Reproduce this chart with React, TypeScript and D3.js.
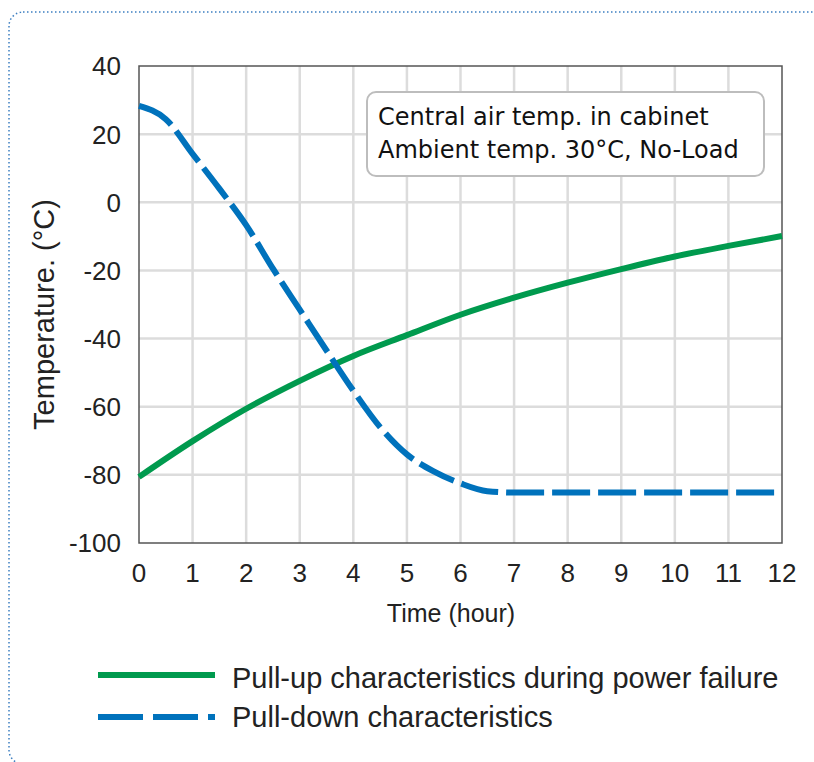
import React from 'react';
import * as d3 from 'd3';

// values
const upHours = [0, 1, 2, 3, 4, 5, 6, 7, 8, 9, 10, 11, 12];
const pullUp = [-80.6, -70.1, -60.6, -52.4, -45.1, -39.0, -33.0, -28.0, -23.6, -19.6, -15.9, -12.8, -9.9];

const downHours = [0, 0.5, 1, 1.5, 2, 2.5, 3, 3.5, 4, 4.5, 5, 5.5, 6, 6.5, 7, 8, 9, 10, 11, 12];
const pullDown = [28.3, 24.4, 14.2, 4.0, -6.7, -19.5, -31.5, -43.5, -55.3, -66, -74, -79, -82.5, -84.8, -85.2, -85.2, -85.2, -85.2, -85.2, -85.2];

const xTicks = [0, 1, 2, 3, 4, 5, 6, 7, 8, 9, 10, 11, 12];
const yTicks = [40, 20, 0, -20, -40, -60, -80, -100];

const noteLines = ['Central air temp. in cabinet', 'Ambient temp. 30°C, No-Load'];
const legendLabels = ['Pull-up characteristics during power failure', 'Pull-down characteristics'];

const GREEN = '#009a4e';
const BLUE = '#0072bc';
const FONT = '"Liberation Sans", Arial, sans-serif';

export default function App() {
  const width = 814;
  const height = 762;
  const margin = { top: 66, right: 32, bottom: 219, left: 139 };

  const x = d3.scaleLinear().domain([0, 12]).range([margin.left, width - margin.right]);
  const y = d3.scaleLinear().domain([-100, 40]).range([height - margin.bottom, margin.top]);

  const line = d3.line<[number, number]>()
    .x(d => x(d[0]))
    .y(d => y(d[1]))
    .curve(d3.curveMonotoneX);

  const upPath = line(upHours.map((h, i) => [h, pullUp[i]]) as [number, number][]) || '';
  const downPath = line(downHours.map((h, i) => [h, pullDown[i]]) as [number, number][]) || '';

  const [x0, x1] = x.range();
  const [y0, y1] = y.range();

  return (
    <svg width={width} height={height} style={{ position: 'absolute', left: 0, top: 0, background: '#fff' }}>
      {/* dotted page frame */}
      <rect x={9} y={12} width={900} height={752} rx={14} fill="none"
        stroke="#3d7fc1" strokeWidth={1.5} strokeDasharray="1.5,2.5" />

      {/* grid */}
      <g stroke="#dcdcdc" strokeWidth={2.5}>
        {xTicks.slice(1, -1).map(t => (
          <line key={'gx' + t} x1={x(t)} x2={x(t)} y1={y1} y2={y0} />
        ))}
        {yTicks.slice(1, -1).map(t => (
          <line key={'gy' + t} x1={x0} x2={x1} y1={y(t)} y2={y(t)} />
        ))}
      </g>
      <rect x={x0} y={y1} width={x1 - x0} height={y0 - y1} fill="none" stroke="#555" strokeWidth={1.5} />

      {/* note box */}
      <rect x={367} y={92} width={397} height={84} rx={9} fill="#fff" stroke="#bdbdbd" strokeWidth={2} />
      {noteLines.map((t, i) => (
        <text key={t} x={378} y={125 + i * 33} fontFamily='"DejaVu Sans", sans-serif' fontSize={24} fill="#111">{t}</text>
      ))}

      {/* series */}
      <path d={upPath} fill="none" stroke={GREEN} strokeWidth={6} />
      <path d={downPath} fill="none" stroke={BLUE} strokeWidth={6} strokeDasharray="38,8" />

      {/* axes labels */}
      <g fontFamily={FONT} fontSize={26} fill="#222">
        {yTicks.map(t => (
          <text key={'ty' + t} x={121} y={y(t)} dy="0.36em" textAnchor="end">{t}</text>
        ))}
        {xTicks.map(t => (
          <text key={'tx' + t} x={x(t)} y={582} textAnchor="middle">{t}</text>
        ))}
      </g>
      <text x={451} y={622} textAnchor="middle" fontFamily={FONT} fontSize={25} fill="#222">Time (hour)</text>
      <text transform={`translate(54,${(y0 + y1) / 2 + 10}) rotate(-90)`} textAnchor="middle"
        fontFamily={FONT} fontSize={29} fill="#222">Temperature. (°C)</text>

      {/* legend */}
      <line x1={98} x2={215} y1={675} y2={675} stroke={GREEN} strokeWidth={6} />
      <line x1={98} x2={215} y1={717} y2={717} stroke={BLUE} strokeWidth={6} strokeDasharray="45,10" />
      {legendLabels.map((t, i) => (
        <text key={t} x={232} y={688 + i * 39} fontFamily={FONT} fontSize={29} fill="#222">{t}</text>
      ))}
    </svg>
  );
}
